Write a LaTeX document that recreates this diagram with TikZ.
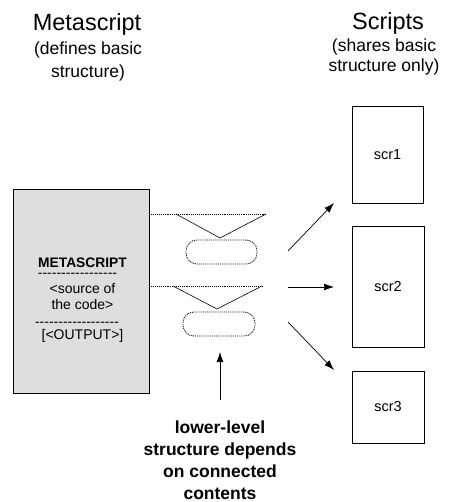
\documentclass[tikz,border=0pt]{standalone}
\usepackage{fontspec}
\setmainfont{Liberation Sans}
\usetikzlibrary{arrows.meta}
\tikzset{
	txt/.style={inner sep=0pt, anchor=base},
	scrbox/.style={draw, line width=0.7pt, inner sep=0pt, font=\fontsize{14.5}{17}\selectfont},
	pill/.style={draw, densely dotted, line width=0.9pt, rounded corners=11pt, inner sep=0pt},
	topline/.style={densely dotted, line width=0.9pt},
	arr/.style={line width=0.7pt, -{Latex[length=10pt,width=7pt]}}
}
\def\dashrow#1{\foreach\i in {1,...,#1}{-\kern0pt}}

\begin{document}
\begin{tikzpicture}[x=1pt, y=-1pt]
		%%%%% START %%%%%
		\useasboundingbox (0, 0) rectangle (449, 502);
		
		% headings (multi-line nodes: base is the last line)
		\node[txt, font=\fontsize{23.5}{28}\selectfont] (metatitle) at (87, 30.5) {Metascript};
		\node[txt, align=center, font=\fontsize{17.5}{22.5}\selectfont] (metasub) at (88, 77.5) {(defines basic\\structure)};
		\node[txt, font=\fontsize{23.5}{28}\selectfont] (scrtitle) at (388, 30) {Scripts};
		\node[txt, align=center, font=\fontsize{17.5}{20}\selectfont] (scrsub) at (384, 72) {(shares basic\\structure only)};
		
		% the metascript
		\node[draw, line width=0.8pt, fill=black!13, minimum width=136pt, minimum height=204pt] (meta) at (81, 291) {};
		\node[txt, font=\fontsize{13.8}{16}\selectfont\bfseries] (metaname) at (82.5, 267) {METASCRIPT};
		\node[txt, font=\fontsize{14}{16}\selectfont] (dashA) at (77.5, 277.5) {\dashrow{17}};
		\node[txt, font=\fontsize{14}{16}\selectfont] (source) at (82.5, 293) {<source of};
		\node[txt, font=\fontsize{14}{16}\selectfont] (code) at (82.5, 309) {the code>};
		\node[txt, font=\fontsize{14}{16}\selectfont] (dashB) at (77, 326) {\dashrow{18}};
		\node[txt, font=\fontsize{14}{16}\selectfont] (output) at (82.5, 339.5) {[<OUTPUT>]};
		
		% structure
		\draw[topline] (meta.east |- 0, 214) -- (266, 214);
		\draw[line width=0.6pt] (176, 214) -- (220, 238) -- (266, 214);
		\node[pill, minimum width=71pt, minimum height=24pt] (pillA) at (221.5, 252) {};
		
		\draw[topline] (meta.east |- 0, 286) -- (262, 286);
		\draw[line width=0.6pt] (173, 286) -- (217, 309) -- (262, 286);
		\node[pill, minimum width=72pt, minimum height=24pt] (pillB) at (219, 324) {};
		
		% scripts
		\node[scrbox, minimum width=71pt, minimum height=97pt] (scr1) at (387.5, 154.5) {scr1};
		\node[scrbox, minimum width=72pt, minimum height=121pt] (scr2) at (388, 286.5) {scr2};
		\node[scrbox, minimum width=72pt, minimum height=72pt] (scr3) at (388, 407) {scr3};
		
		\coordinate (outA) at (288, 251);
		\coordinate (outB) at (288, 287);
		\coordinate (outC) at (288, 322);
		\coordinate (inA) at (334, 203);
		\coordinate (inB) at (334, 287);
		\coordinate (inC) at (334, 370);
		\draw[arr] (outA) -- (inA);
		\draw[arr] (outB) -- (inB);
		\draw[arr] (outC) -- (inC);
		
		% note below
		\node[txt, align=center, font=\fontsize{17.5}{22}\selectfont\bfseries] (note) at (220, 499) {lower-level\\structure depends\\on connected\\contents};
		\coordinate (upfoot) at (220, 400);
		\coordinate (uptip) at (220, 352);
		\draw[arr] (upfoot) -- (uptip);
		
		%%%%% END %%%%%
	\end{tikzpicture}
\end{document}
